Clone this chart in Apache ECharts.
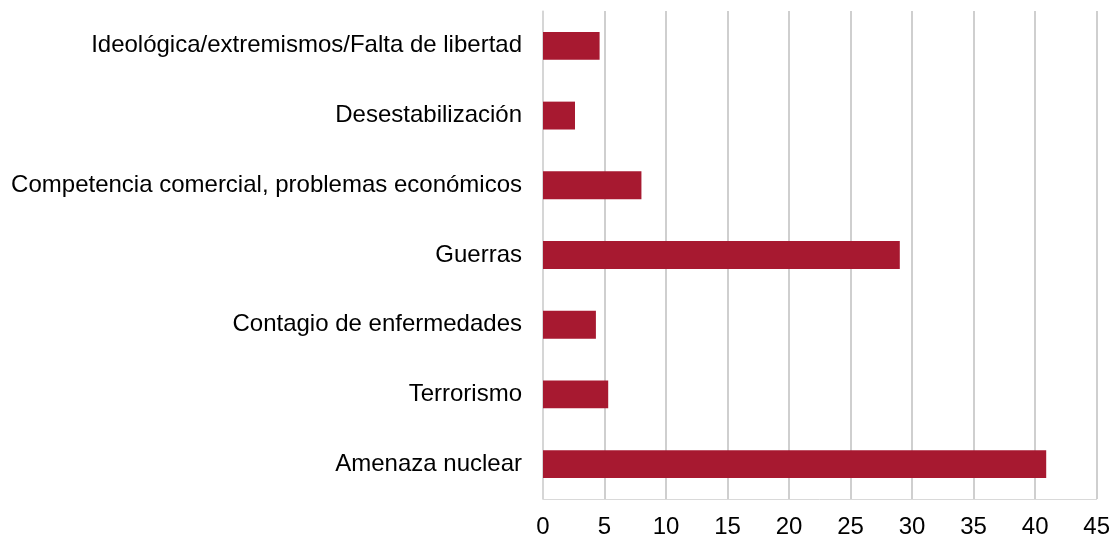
<!DOCTYPE html>
<html>
<head>
<meta charset="utf-8">
<script src="https://cdn.jsdelivr.net/npm/echarts@6/dist/echarts.min.js"></script>
<style>
  html, body { margin: 0; padding: 0; background: #fff; }
  #chart { width: 1113px; height: 540px; }
</style>
</head>
<body>
<div id="chart"></div>
<script>
// categorías (de abajo hacia arriba)
const categories = [
  'Amenaza nuclear',
  'Terrorismo',
  'Contagio de enfermedades',
  'Guerras',
  'Competencia comercial, problemas económicos',
  'Desestabilización',
  'Ideológica/extremismos/Falta de libertad'
];
const values = [40.9, 5.3, 4.3, 29.0, 8.0, 2.6, 4.6];
const xTicks = [0, 5, 10, 15, 20, 25, 30, 35, 40, 45];

const myChart = echarts.init(document.getElementById('chart'));

myChart.setOption({
  animation: false,
  grid: { left: 543, right: 15, top: 11, bottom: 41 },
  xAxis: {
    type: 'value',
    min: xTicks[0],
    max: xTicks[xTicks.length - 1],
    interval: 5,
    axisLine: { show: true, lineStyle: { color: '#d9d9d9', width: 1 } },
    axisTick: { show: false },
    axisLabel: { color: '#000', fontSize: 24, fontFamily: 'Arial, "Liberation Sans"', margin: 16 },
    splitLine: { show: true, lineStyle: { color: '#bfbfbf', width: 1.5 } }
  },
  yAxis: {
    type: 'category',
    data: categories,
    axisLine: { show: true, lineStyle: { color: '#d9d9d9', width: 1.5 } },
    axisTick: { show: false },
    axisLabel: { color: '#000', fontSize: 24, fontFamily: 'Arial, "Liberation Sans"', margin: 21 }
  },
  series: [
    {
      type: 'bar',
      data: values,
      barCategoryGap: '60%',
      itemStyle: { color: '#a71930' }
    }
  ]
});
</script>
</body>
</html>
